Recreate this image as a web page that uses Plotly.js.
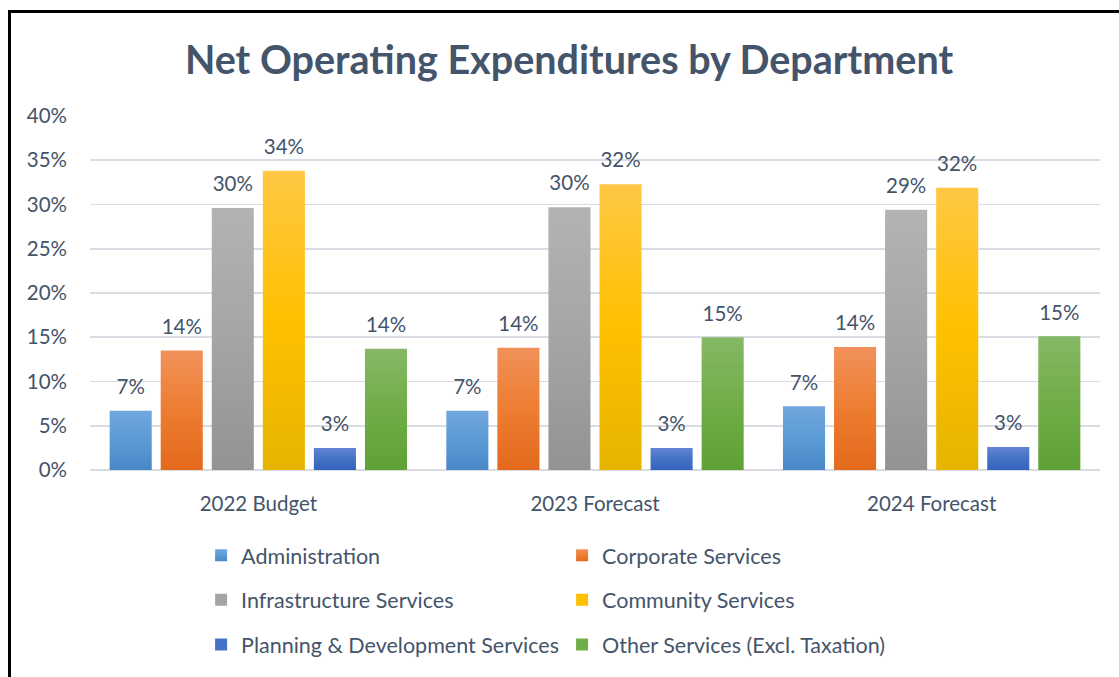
<!DOCTYPE html>
<html>
<head>
<meta charset="utf-8">
<script src="https://cdn.plot.ly/plotly-3.0.1.min.js"></script>
<style>
  html, body { margin: 0; padding: 0; background: #fff; }
  #wrap { position: relative; width: 1119px; height: 677px; overflow: hidden; }
  #chart { width: 1119px; height: 677px; }
  #frame { position: absolute; left: 8px; top: 10px; width: 1200px; height: 800px;
           border-left: 3px solid #000; border-top: 3px solid #000; pointer-events: none; }
</style>
</head>
<body>
<div id="wrap">
  <div id="chart"></div>
  <div id="frame"></div>
</div>
<script>
// ---- data ----
const categories = ['2022 Budget', '2023 Forecast', '2024 Forecast'];
const seriesNames = [
  'Administration',
  'Corporate Services',
  'Infrastructure Services',
  'Community Services',
  'Planning & Development Services',
  'Other Services (Excl. Taxation)'
];
const administration = [0.067, 0.067, 0.072];
const corporateServices = [0.135, 0.138, 0.139];
const infrastructureServices = [0.296, 0.297, 0.294];
const communityServices = [0.338, 0.323, 0.319];
const planningDevelopment = [0.025, 0.025, 0.026];
const otherServices = [0.137, 0.150, 0.151];
const seriesValues = [administration, corporateServices, infrastructureServices,
                      communityServices, planningDevelopment, otherServices];

// ---- styles ----
const gradTop = ['#72A7DE', '#F1915A', '#B3B3B3', '#FFC845', '#6384D4', '#86B865'];
const gradMid = ['#5B9BD5', '#ED7D31', '#A5A5A5', '#FFC000', '#4472C4', '#70AD47'];
const gradBot = ['#4787C7', '#E3691C', '#939393', '#E6B400', '#3463C0', '#5FA134'];
const legendOf = ['legend', 'legend', 'legend2', 'legend2', 'legend3', 'legend3'];
const txt = '#44546A';
const FONT = 'Lato, "Open Sans", sans-serif';
const GAP = 0.09;

const traces = [];
seriesNames.forEach((name, i) => {
  traces.push({
    type: 'bar', name: name, x: categories, y: seriesValues[i],
    marker: { color: gradMid[i] },
    legend: legendOf[i],
    hoverinfo: 'name+y'
  });
});
seriesNames.forEach((name, i) => {
  traces.push({
    type: 'scatter', mode: 'markers+text', name: name + ' label',
    x: categories, y: seriesValues[i],
    text: seriesValues[i].map(v => Math.round(v * 100) + '%'),
    textposition: 'top center',
    textfont: { family: FONT, size: 20.5, color: txt },
    marker: { size: 17, opacity: 0 },
    showlegend: false, hoverinfo: 'skip', cliponaxis: false
  });
});

const legendBase = {
  orientation: 'h', xanchor: 'left', yanchor: 'middle', x: 0.11,
  font: { family: FONT, size: 21.5, color: txt },
  entrywidth: 316, bgcolor: 'rgba(0,0,0,0)', borderwidth: 0
};

const layout = {
  width: 1119, height: 677,
  margin: { l: 90, r: 19, t: 116, b: 204 },
  paper_bgcolor: '#fff', plot_bgcolor: '#fff',
  font: { family: FONT, size: 20.5, color: txt },
  title: {
    text: '<b>Net Operating Expenditures by Department</b>',
    font: { family: FONT, size: 39.5, color: txt },
    xref: 'container', x: 0.5085, xanchor: 'center',
    yref: 'container', y: 1 - 60 / 677, yanchor: 'middle'
  },
  barmode: 'group', bargap: GAP, bargroupgap: 0.176,
  scattermode: 'group', scattergap: GAP,
  xaxis: {
    type: 'category', showgrid: false, zeroline: false, showline: false,
    ticks: '', ticklabelstandoff: 19,
    tickfont: { family: FONT, size: 20.5, color: txt }
  },
  yaxis: {
    range: [0, 0.40], dtick: 0.05, tickformat: '.0%',
    showgrid: true, gridcolor: '#D9DDE3', gridwidth: 1.6,
    zeroline: true, zerolinecolor: '#D9DDE3', zerolinewidth: 1.6,
    showline: false, ticks: '', ticklabelstandoff: 22,
    tickfont: { family: FONT, size: 20.5, color: txt }
  },
  showlegend: true,
  legend: Object.assign({}, legendBase, { y: (473 - 559) / 357 }),
  legend2: Object.assign({}, legendBase, { y: (473 - 604) / 357 }),
  legend3: Object.assign({}, legendBase, { y: (473 - 649) / 357 })
};

const gd = document.getElementById('chart');
Plotly.newPlot(gd, traces, layout, { displayModeBar: false, staticPlot: true }).then(() => {
  const svg = gd.querySelector('svg.main-svg');
  const NS = 'http://www.w3.org/2000/svg';
  const defs = document.createElementNS(NS, 'defs');
  gradMid.forEach((c, i) => {
    const lg = document.createElementNS(NS, 'linearGradient');
    lg.setAttribute('id', 'barGrad' + i);
    lg.setAttribute('x1', '0'); lg.setAttribute('y1', '0');
    lg.setAttribute('x2', '0'); lg.setAttribute('y2', '1');
    [[0, gradTop[i]], [0.5, gradMid[i]], [1, gradBot[i]]].forEach(([o, col]) => {
      const s = document.createElementNS(NS, 'stop');
      s.setAttribute('offset', o); s.setAttribute('stop-color', col);
      lg.appendChild(s);
    });
    defs.appendChild(lg);
  });
  svg.insertBefore(defs, svg.firstChild);
  gd.querySelectorAll('.barlayer .trace.bars').forEach(g => {
    const idx = g.__data__[0].trace.index;
    g.querySelectorAll('path').forEach(p => { p.style.fill = 'url(#barGrad' + idx + ')'; });
  });
  gd.querySelectorAll('.legend .traces').forEach(g => {
    const idx = g.__data__[0].trace.index;
    g.querySelectorAll('.legendpoints path').forEach(p => { p.style.fill = 'url(#barGrad' + idx + ')'; });
  });
});
</script>
</body>
</html>
